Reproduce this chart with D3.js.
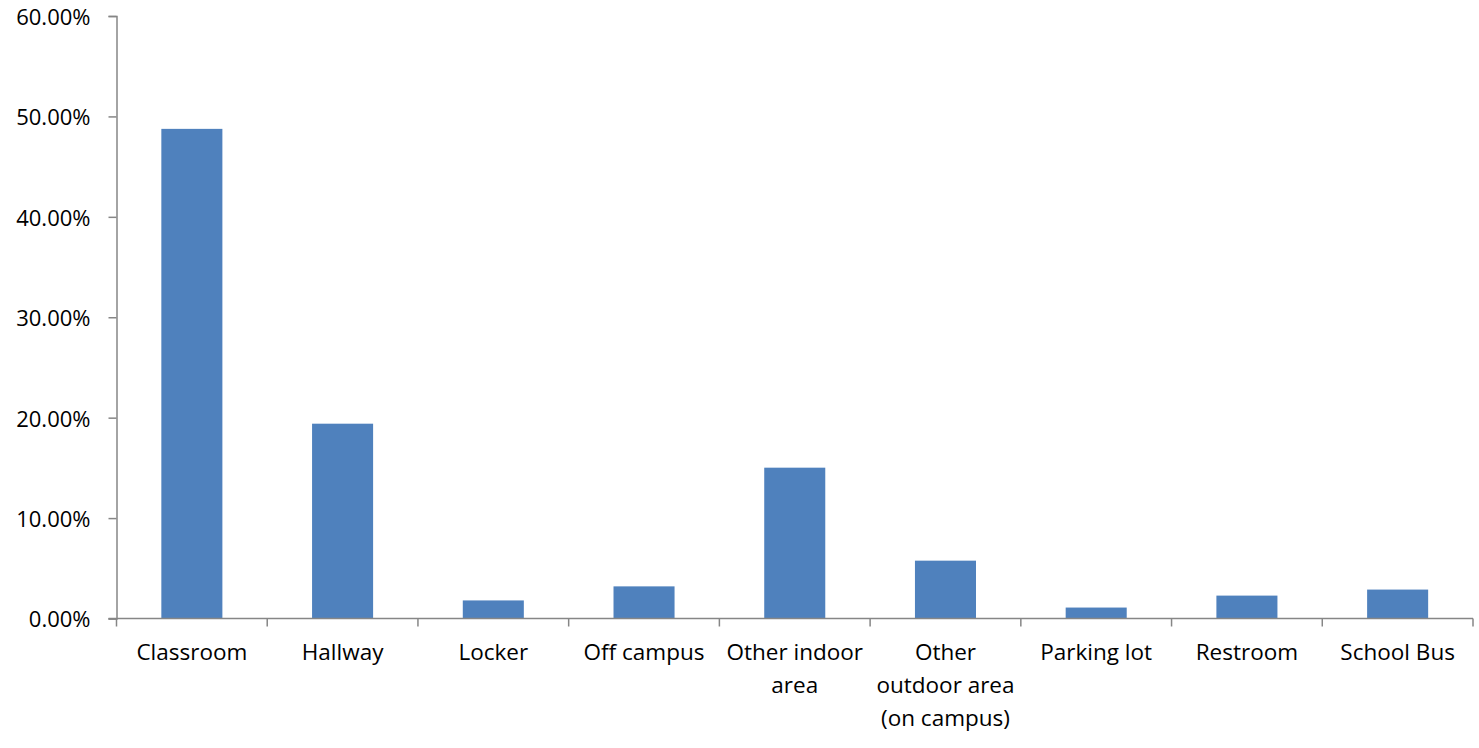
<!DOCTYPE html>
<html>
<head>
<meta charset="utf-8">
<script src="https://cdn.jsdelivr.net/npm/d3@7"></script>
<style>
  body { margin: 0; background: #fff; }
  text { font-family: "Open Sans", "Noto Sans", sans-serif; fill: #000; }
</style>
</head>
<body>
<div class="main"></div>
<script>
// data
const categories = ['Classroom', 'Hallway', 'Locker', 'Off campus', 'Other indoor area',
  'Other outdoor area (on campus)', 'Parking lot', 'Restroom', 'School Bus'];
const labelLines = [['Classroom'], ['Hallway'], ['Locker'], ['Off campus'], ['Other indoor', 'area'],
  ['Other', 'outdoor area', '(on campus)'], ['Parking lot'], ['Restroom'], ['School Bus']];
const values = [0.4876, 0.194, 0.018, 0.032, 0.1502, 0.0576, 0.0109, 0.0228, 0.0288];
const yTicks = [0, 0.1, 0.2, 0.3, 0.4, 0.5, 0.6];

const width = 1479;
const height = 748;
const margin = { left: 116.5, right: 6, top: 16, bottom: 130 };
const axisColor = '#868686';

const svg = d3.select('.main').append('svg')
  .attr('width', width)
  .attr('height', height);

const x = d3.scaleBand()
  .domain(categories)
  .range([margin.left, width - margin.right])
  .paddingInner(0.595)
  .paddingOuter(0.2975);

const y = d3.scaleLinear()
  .domain([0, 0.6])
  .range([height - margin.bottom + 0.5, margin.top]);

// bars
svg.append('g')
  .selectAll('rect')
  .data(values)
  .enter()
  .append('rect')
  .attr('x', (d, i) => x(categories[i]))
  .attr('y', d => y(d))
  .attr('width', x.bandwidth())
  .attr('height', d => y(0) - y(d))
  .attr('fill', '#4F81BD');

// y axis
const yAxis = svg.append('g')
  .attr('transform', `translate(${margin.left},0)`)
  .call(d3.axisLeft(y).tickValues(yTicks).tickSize(8).tickPadding(18)
    .tickFormat(d => (d * 100).toFixed(2) + '%'));
yAxis.selectAll('path, line').attr('stroke', axisColor).attr('stroke-width', 1.5);
yAxis.selectAll('text').style('font-size', '22px').attr('fill', '#000').attr('dy', '0.38em');

// x axis
const step = x.step();
const boundaries = d3.range(categories.length + 1).map(i => margin.left + i * step);
const xAxis = svg.append('g');
xAxis.append('line')
  .attr('x1', margin.left - 8)
  .attr('x2', boundaries[boundaries.length - 1])
  .attr('y1', y(0))
  .attr('y2', y(0))
  .attr('stroke', axisColor)
  .attr('stroke-width', 1.5);
xAxis.selectAll('.tick')
  .data(boundaries)
  .enter()
  .append('line')
  .attr('x1', d => d)
  .attr('x2', d => d)
  .attr('y1', y(0))
  .attr('y2', y(0) + 8)
  .attr('stroke', axisColor)
  .attr('stroke-width', 1.5);

const labels = xAxis.selectAll('.lbl')
  .data(categories)
  .enter()
  .append('text')
  .attr('text-anchor', 'middle')
  .style('font-size', '22.5px')
  .attr('transform', d => `translate(${x(d) + x.bandwidth() / 2},${y(0) + 41})`);
labels.selectAll('tspan')
  .data((d, i) => labelLines[i])
  .enter()
  .append('tspan')
  .attr('x', 0)
  .attr('dy', (d, i) => i === 0 ? 0 : 33)
  .text(d => d);
</script>
</body>
</html>
